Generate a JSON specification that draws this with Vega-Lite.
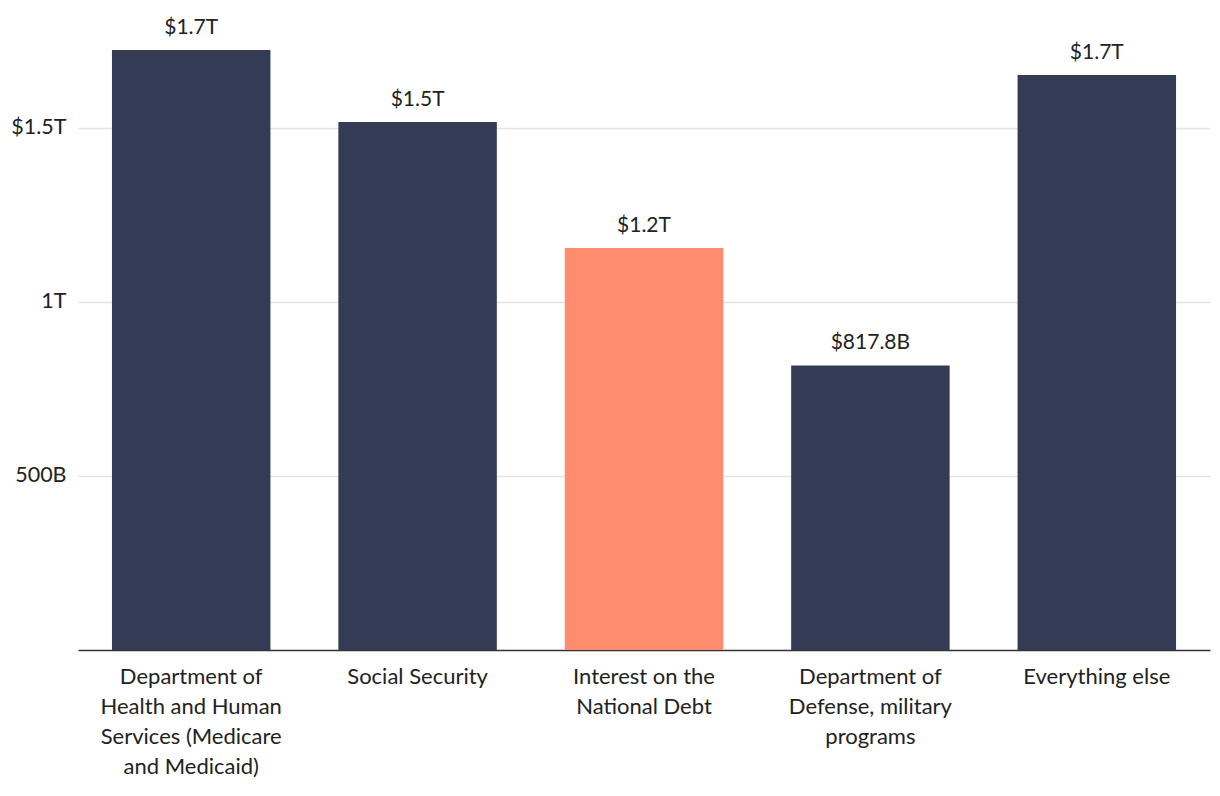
{
  "$schema": "https://vega.github.io/schema/vega-lite/v6.json",
  "width": 1132,
  "height": 600,
  "autosize": {"type": "none"},
  "padding": {"left": 78, "top": 50, "right": 10, "bottom": 146},
  "background": "white",
  "config": {
    "view": {"stroke": null},
    "font": "Lato",
    "text": {"font": "Lato"}
  },
  "data": {
    "values": [
      {"category": "Department of Health and Human Services (Medicare and Medicaid)", "amount": 1724000000000, "highlight": "no"},
      {"category": "Social Security", "amount": 1517000000000, "highlight": "no"},
      {"category": "Interest on the National Debt", "amount": 1155000000000, "highlight": "yes"},
      {"category": "Department of Defense, military programs", "amount": 817800000000, "highlight": "no"},
      {"category": "Everything else", "amount": 1652000000000, "highlight": "no"}
    ]
  },
  "transform": [
    {"calculate": "datum.amount >= 1e12 ? '$' + format(datum.amount / 1e12, '.1f') + 'T' : '$' + format(datum.amount / 1e9, '.1f') + 'B'", "as": "amountLabel"}
  ],
  "encoding": {
    "x": {
      "field": "category",
      "type": "nominal",
      "sort": null,
      "scale": {"paddingInner": 0.3, "paddingOuter": 0.15},
      "axis": {
        "title": null,
        "labelAngle": 0,
        "labelFont": "Lato",
        "labelFontSize": 22,
        "labelColor": "#222222",
        "labelLineHeight": 30,
        "labelPadding": 16,
        "labelLimit": 300,
        "ticks": false,
        "domainColor": "#333333",
        "domainWidth": 1.5,
        "labelExpr": "datum.value == 'Department of Health and Human Services (Medicare and Medicaid)' ? ['Department of', 'Health and Human', 'Services (Medicare', 'and Medicaid)'] : datum.value == 'Interest on the National Debt' ? ['Interest on the', 'National Debt'] : datum.value == 'Department of Defense, military programs' ? ['Department of', 'Defense, military', 'programs'] : datum.value"
      }
    },
    "y": {
      "field": "amount",
      "type": "quantitative",
      "scale": {"domain": [0, 1724000000000], "nice": false, "zero": true},
      "axis": {
        "title": null,
        "values": [500000000000, 1000000000000, 1500000000000],
        "labelExpr": "datum.value == 5e11 ? '500B' : datum.value == 1e12 ? '1T' : '$1.5T'",
        "labelFont": "Lato",
        "labelFontSize": 21.5,
        "labelColor": "#222222",
        "labelPadding": 12,
        "ticks": false,
        "domain": false,
        "grid": true,
        "gridColor": "#e4e4e4",
        "gridWidth": 1.5
      }
    }
  },
  "layer": [
    {
      "mark": {"type": "bar"},
      "encoding": {
        "color": {
          "field": "highlight",
          "type": "nominal",
          "scale": {"domain": ["no", "yes"], "range": ["#343b55", "#ff8c6e"]},
          "legend": null
        }
      }
    },
    {
      "mark": {"type": "text", "baseline": "bottom", "dy": -12, "fontSize": 21, "color": "#222222", "font": "Lato"},
      "encoding": {
        "text": {"field": "amountLabel", "type": "nominal"}
      }
    }
  ]
}
